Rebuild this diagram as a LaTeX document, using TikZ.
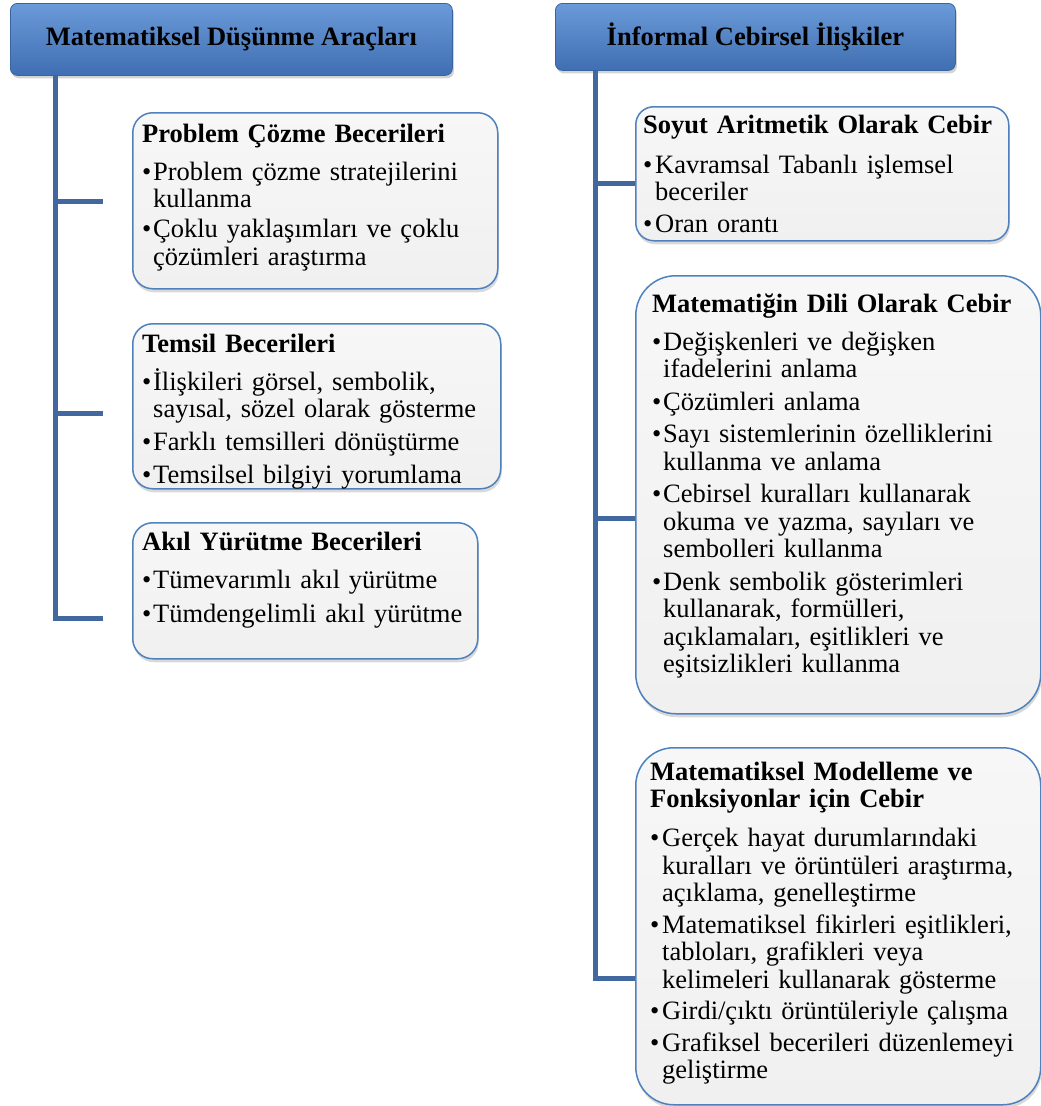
\documentclass[tikz,border=0pt]{standalone}
\usepackage{fontspec}
\setmainfont{Liberation Serif}
\usetikzlibrary{shadows}
\definecolor{spine}{HTML}{41689F}
\definecolor{boxedge}{HTML}{4F81BD}
\definecolor{boxtop}{HTML}{F7F7F7}
\definecolor{boxbot}{HTML}{F0F0F0}
\definecolor{hdtop}{HTML}{6A9AD8}
\definecolor{hdmid}{HTML}{4C7FC3}
\definecolor{hdbot}{HTML}{3F6FB2}
\definecolor{hdedge}{HTML}{3A64A0}
\newlength\igap
\newlength\bind
\newcommand\boxhead[2]{\noindent\textbf{#2}\par\vskip\dimexpr#1-\igap\relax}
\newcommand\boxitem[1]{\par\vskip\igap\hangindent=\bind\hangafter=1\noindent\makebox[\bind][l]{\textbullet}#1}
\begin{document}
\begin{tikzpicture}[x=1pt,y=-1pt,
  hdr/.style={rounded corners=7pt, top color=hdtop, middle color=hdmid, bottom color=hdbot, draw=hdedge, line width=0.8pt,
    drop shadow={shadow xshift=1.5pt, shadow yshift=-3pt, opacity=0.35},
    font=\bfseries\fontsize{26.5}{27.5}\selectfont, inner sep=0, anchor=north west},
  box/.style={rounded corners=#1, draw=boxedge, line width=1.5pt, top color=boxtop, bottom color=boxbot,
    drop shadow={shadow xshift=1pt, shadow yshift=-3.5pt, opacity=0.3},
    inner sep=0, anchor=north west},
  box/.default=20pt,
  txt/.style={anchor=base west, inner sep=0, align=left, text width=390pt,
    font=\fontsize{26.5}{27.5}\selectfont},
  conn/.style={draw=spine, line width=5pt}]
\useasboundingbox (0,0) rectangle (1041,1106);

% spine positions and branch ends
\coordinate (sl) at (55,0);
\coordinate (l1) at (103,201);
\coordinate (l2) at (103,413);
\coordinate (l3) at (103,618);
\coordinate (sr) at (595,0);
\coordinate (r1) at (595,183);
\coordinate (r2) at (595,518);
\coordinate (r3) at (595,978);

% rounded boxes
\node[box=20pt, minimum width=365pt, minimum height=176pt] (pb) at (132,112) {};
\node[box=20pt, minimum width=368pt, minimum height=165pt] (tb) at (132,323) {};
\node[box=20pt, minimum width=345pt, minimum height=136pt] (ab) at (132,522) {};
\node[box=18pt, minimum width=373pt, minimum height=134pt] (sa) at (635,106) {};
\node[box=40pt, minimum width=405pt, minimum height=438pt] (md) at (635,275) {};
\node[box=38pt, minimum width=405pt, minimum height=357pt] (mm) at (635,747) {};

% headers
\node[hdr, minimum width=442pt, minimum height=72pt] (hl) at (10,3) {Matematiksel Düşünme Araçları};
\node[hdr, minimum width=400pt, minimum height=67pt] (hr) at (555,3) {İnformal Cebirsel İlişkiler};

% connectors
\draw[conn] (hl.south -| sl) -- (sl |- l3) -- (l3);
\draw[conn] (sl |- l1) -- (l1);
\draw[conn] (sl |- l2) -- (l2);
\draw[conn] (hr.south -| sr) -- (r3) -- (mm.west |- r3);
\draw[conn] (r1) -- (sa.west |- r1);
\draw[conn] (r2) -- (md.west |- r2);

% left column texts
\node[txt] (pbt) at (142,142) {\setlength\igap{2.5pt}\setlength\bind{11pt}%
\boxhead{10.5pt}{Problem Çözme Becerileri}%
\boxitem{Problem çözme stratejilerini\newline kullanma}%
\boxitem{Çoklu yaklaşımları ve çoklu\newline çözümleri araştırma}\par};

\node[txt] (tbt) at (142,352) {\setlength\igap{5.5pt}\setlength\bind{11pt}%
\boxhead{10.5pt}{Temsil Becerileri}%
\boxitem{İlişkileri görsel, sembolik,\newline sayısal, sözel olarak gösterme}%
\boxitem{Farklı temsilleri dönüştürme}%
\boxitem{Temsilsel bilgiyi yorumlama}\par};

\node[txt] (abt) at (142,550) {\setlength\igap{6.5pt}\setlength\bind{11pt}%
\boxhead{10.5pt}{Akıl Yürütme Becerileri}%
\boxitem{Tümevarımlı akıl yürütme}%
\boxitem{Tümdengelimli akıl yürütme}\par};

% right column texts
\node[txt] (sat) at (643,133) {\setlength\igap{4.5pt}\setlength\bind{12pt}%
\boxhead{12.5pt}{Soyut Aritmetik Olarak Cebir}%
\boxitem{Kavramsal Tabanlı işlemsel\newline beceriler}%
\boxitem{Oran orantı}\par};

\node[txt] (mdt) at (652,312) {\setlength\igap{5pt}\setlength\bind{11pt}%
\boxhead{10.5pt}{Matematiğin Dili Olarak Cebir}%
\boxitem{Değişkenleri ve değişken\newline ifadelerini anlama}%
\boxitem{Çözümleri anlama}%
\boxitem{Sayı sistemlerinin özelliklerini\newline kullanma ve anlama}%
\boxitem{Cebirsel kuralları kullanarak\newline okuma ve yazma, sayıları ve\newline sembolleri kullanma}%
\boxitem{Denk sembolik gösterimleri\newline kullanarak, formülleri,\newline açıklamaları, eşitlikleri ve\newline eşitsizlikleri kullanma}\par};

\node[txt] (mmt) at (650,780) {\setlength\igap{4pt}\setlength\bind{12pt}%
\boxhead{11.5pt}{Matematiksel Modelleme ve\newline Fonksiyonlar için Cebir}%
\boxitem{Gerçek hayat durumlarındaki\newline kuralları ve örüntüleri araştırma,\newline açıklama, genelleştirme}%
\boxitem{Matematiksel fikirleri eşitlikleri,\newline tabloları, grafikleri veya\newline kelimeleri kullanarak gösterme}%
\boxitem{Girdi/çıktı örüntüleriyle çalışma}%
\boxitem{Grafiksel becerileri düzenlemeyi\newline geliştirme}\par};
\end{tikzpicture}
\end{document}
